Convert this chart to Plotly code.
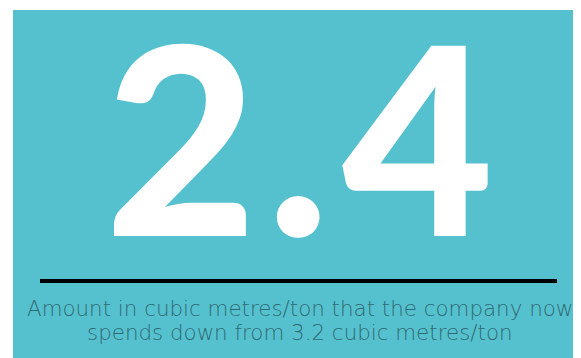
import plotly.graph_objects as go

# Data
big_value = "2.4"
caption_lines = [
    "Amount in cubic metres/ton that the company now",
    "spends down from 3.2 cubic metres/ton",
]

W, H = 581, 358
OFF = 8  # page body margin offset so coordinates below are screen pixels
teal = "#56c1ce"

fig = go.Figure()
fig.update_layout(
    width=W, height=H,
    margin=dict(l=0, r=0, t=0, b=0),
    paper_bgcolor="white", plot_bgcolor="white",
    xaxis=dict(range=[OFF, W + OFF], visible=False, fixedrange=True),
    yaxis=dict(range=[H + OFF, OFF], visible=False, fixedrange=True),
    showlegend=False,
)

fig.add_shape(type="rect", x0=13, x1=W + 20, y0=10, y1=H + 20,
              fillcolor=teal, line=dict(width=0), layer="below")
fig.add_shape(type="line", x0=40, x1=557, y0=281, y1=281,
              line=dict(color="black", width=4))

# big number, each glyph placed to match the wide display face
glyph_centers = [181, 298, 418]
for ch, cx in zip(big_value, glyph_centers):
    fig.add_annotation(
        x=cx, y=134, xref="x", yref="y", text=ch,
        showarrow=False, xanchor="center", yanchor="middle",
        font=dict(family="Lato", size=262, color="white", weight=900),
    )

for i, line in enumerate(caption_lines):
    fig.add_annotation(
        x=300, y=308 + 24 * i, xref="x", yref="y", text=line,
        showarrow=False, xanchor="center", yanchor="middle", align="center",
        font=dict(family="DejaVu Sans", size=21.4, color="#2f6b74", weight=200),
    )

fig.write_html("out.html")
